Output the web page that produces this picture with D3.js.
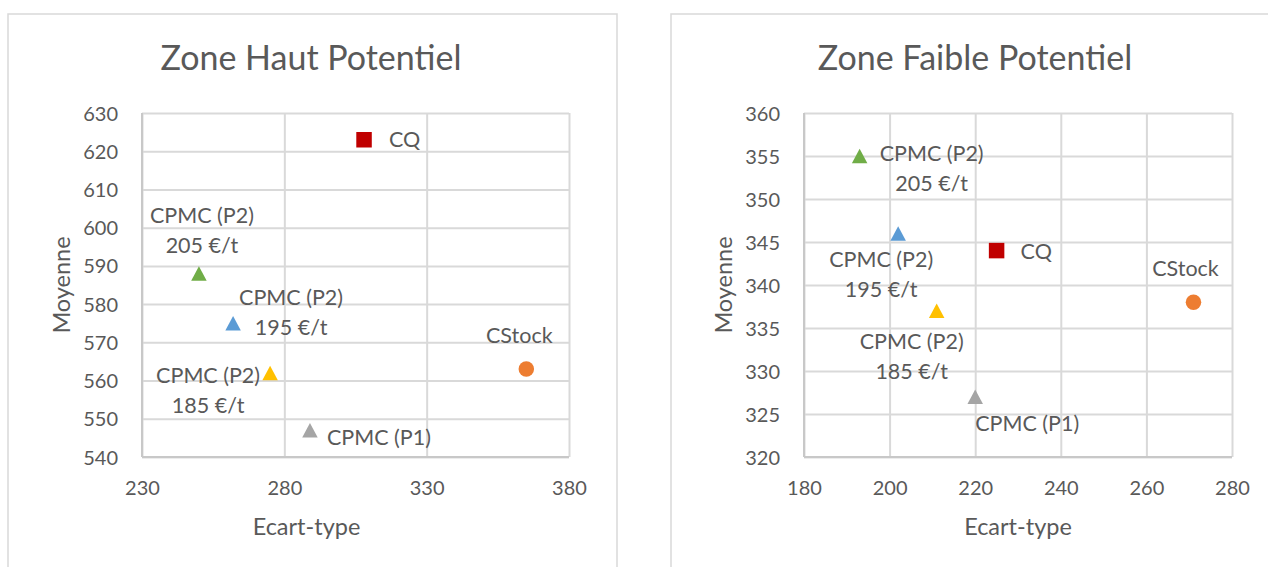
<!DOCTYPE html>
<html>
<head>
<meta charset="utf-8">
<script src="https://cdn.jsdelivr.net/npm/d3@7"></script>
<style>
    body { margin: 0; background: #fff; }
    text { font-family: Lato, "Open Sans", sans-serif; fill: #595959; }
</style>
</head>
<body>
<div id="chart"></div>
<script>
// Series (same order in both charts)
const seriesNames = ["CQ", "CStock", "CPMC (P1)", "CPMC (P2) 185", "CPMC (P2) 195", "CPMC (P2) 205"];
const seriesLabels = [["CQ"], ["CStock"], ["CPMC (P1)"], ["CPMC (P2)", "185 €/t"], ["CPMC (P2)", "195 €/t"], ["CPMC (P2)", "205 €/t"]];
const seriesShapes = ["square", "circle", "triangle", "triangle", "triangle", "triangle"];
const seriesColors = ["#c00000", "#ed7d31", "#a5a5a5", "#ffc000", "#5b9bd5", "#70ad47"];

// Zone Haut Potentiel
const hautX = [308, 365, 289, 275, 262, 250];
const hautY = [623, 563, 547, 562, 575, 588];
const hautXTicks = [230, 280, 330, 380];
const hautYTicks = [540, 550, 560, 570, 580, 590, 600, 610, 620, 630];

// Zone Faible Potentiel
const faibleX = [225, 271, 220, 211, 202, 193];
const faibleY = [344, 338, 327, 337, 346, 355];
const faibleXTicks = [180, 200, 220, 240, 260, 280];
const faibleYTicks = [320, 325, 330, 335, 340, 345, 350, 355, 360];

// Label placement relative to the marker: [dx, dy of first line, anchor]
const hautLabelPos = [[25, 0, "start"], [-7, -34, "middle"], [17, 7, "start"],
                      [-62, 3, "middle"], [58, -26, "middle"], [3, -58, "middle"]];
const faibleLabelPos = [[24, 1, "start"], [-8, -34, "middle"], [52, 27, "middle"],
                        [-25, 31, "middle"], [-17, 26, "middle"], [72, -3, "middle"]];

const width = 1268, height = 567;
const gridColor = "#d9d9d9";

const svg = d3.select("#chart").append("svg")
    .attr("width", width)
    .attr("height", height);

function markerPath(shape) {
    const s = 15.5;
    if (shape === "square") return `M${-s/2},${-s/2}h${s}v${s}h${-s}Z`;
    if (shape === "circle") return d3.symbol(d3.symbolCircle, Math.PI * (s/2) * (s/2))();
    // triangle centered on its bounding box
    const h = 14.5;
    return `M0,${-h/2}L${s/2},${h/2}L${-s/2},${h/2}Z`;
}

function drawChart(cfg) {
    const g = svg.append("g");

    // panel frame
    g.append("rect")
        .attr("x", cfg.frame[0]).attr("y", cfg.frame[1])
        .attr("width", cfg.frame[2]).attr("height", cfg.frame[3])
        .attr("fill", "#fff")
        .attr("stroke", gridColor)
        .attr("stroke-width", 1.5);

    const x = d3.scaleLinear()
        .domain(d3.extent(cfg.xTicks))
        .range([cfg.plot.left, cfg.plot.right]);
    const y = d3.scaleLinear()
        .domain(d3.extent(cfg.yTicks))
        .range([cfg.plot.bottom, cfg.plot.top]);

    const plotW = cfg.plot.right - cfg.plot.left;
    const plotH = cfg.plot.bottom - cfg.plot.top;

    // gridlines + tick labels via d3 axes
    const xAxis = g.append("g")
        .attr("transform", `translate(0,${cfg.plot.bottom})`)
        .call(d3.axisBottom(x).tickValues(cfg.xTicks).tickSize(-plotH).tickFormat(d3.format("d")));
    const yAxis = g.append("g")
        .attr("transform", `translate(${cfg.plot.left},0)`)
        .call(d3.axisLeft(y).tickValues(cfg.yTicks).tickSize(-plotW).tickFormat(d3.format("d")));

    [xAxis, yAxis].forEach(a => {
        a.select(".domain").remove();
        a.selectAll("line").attr("stroke", gridColor).attr("stroke-width", 2);
        a.selectAll("text")
            .attr("fill", "#595959")
            .style("font-family", "Lato, 'Open Sans', sans-serif")
            .style("font-size", "20px");
    });
    xAxis.selectAll("text").attr("y", 31).attr("dy", "0.35em");
    yAxis.selectAll("text").attr("x", -24).attr("dy", "0.35em");

    // plot border lines (axes)
    g.append("line")
        .attr("x1", cfg.plot.left).attr("x2", cfg.plot.right)
        .attr("y1", cfg.plot.bottom).attr("y2", cfg.plot.bottom)
        .attr("stroke", "#c8c8c8").attr("stroke-width", 2);
    g.append("line")
        .attr("x1", cfg.plot.left).attr("x2", cfg.plot.left)
        .attr("y1", cfg.plot.top).attr("y2", cfg.plot.bottom)
        .attr("stroke", "#c8c8c8").attr("stroke-width", 2);

    // title
    g.append("text")
        .attr("x", cfg.titlePos[0]).attr("y", cfg.titlePos[1])
        .attr("text-anchor", "middle")
        .attr("dy", "0.35em")
        .style("font-size", "34px")
        .text(cfg.title);

    // axis titles
    g.append("text")
        .attr("x", (cfg.plot.left + cfg.plot.right) / 2 + cfg.xTitleShift)
        .attr("y", 527)
        .attr("text-anchor", "middle")
        .attr("dy", "0.35em")
        .style("font-size", "23.5px")
        .text("Ecart-type");
    g.append("text")
        .attr("transform", `translate(${cfg.yTitleX},${(cfg.plot.top + cfg.plot.bottom) / 2}) rotate(-90)`)
        .attr("text-anchor", "middle")
        .attr("dy", "0.35em")
        .style("font-size", "23.5px")
        .text("Moyenne");

    // markers
    const pts = seriesNames.map((name, i) => ({
        name, x: cfg.xs[i], y: cfg.ys[i],
        shape: seriesShapes[i], color: seriesColors[i],
        lines: seriesLabels[i], pos: cfg.labelPos[i]
    }));

    g.selectAll(".marker")
        .data(pts)
        .enter()
        .append("path")
        .attr("class", "marker")
        .attr("transform", d => `translate(${x(d.x)},${y(d.y)})`)
        .attr("d", d => markerPath(d.shape))
        .attr("fill", d => d.color);

    // data labels
    const labels = g.selectAll(".data-label")
        .data(pts)
        .enter()
        .append("text")
        .attr("class", "data-label")
        .attr("text-anchor", d => d.pos[2])
        .style("font-size", "21.5px");

    labels.each(function (d) {
        const t = d3.select(this);
        d.lines.forEach((line, k) => {
            t.append("tspan")
                .attr("x", x(d.x) + d.pos[0])
                .attr("y", y(d.y) + d.pos[1] + k * 30)
                .attr("dy", "0.35em")
                .text(line);
        });
    });
}

drawChart({
    title: "Zone Haut Potentiel",
    frame: [8, 14, 609, 620],
    plot: { left: 142, right: 569, top: 113, bottom: 457 },
    titlePos: [311, 58],
    xTitleShift: -49,
    yTitleX: 62,
    xTicks: hautXTicks, yTicks: hautYTicks,
    xs: hautX, ys: hautY,
    labelPos: hautLabelPos
});

drawChart({
    title: "Zone Faible Potentiel",
    frame: [671, 14, 620, 620],
    plot: { left: 804, right: 1232, top: 113, bottom: 457 },
    titlePos: [975, 58],
    xTitleShift: 0,
    yTitleX: 724,
    xTicks: faibleXTicks, yTicks: faibleYTicks,
    xs: faibleX, ys: faibleY,
    labelPos: faibleLabelPos
});
</script>
</body>
</html>
